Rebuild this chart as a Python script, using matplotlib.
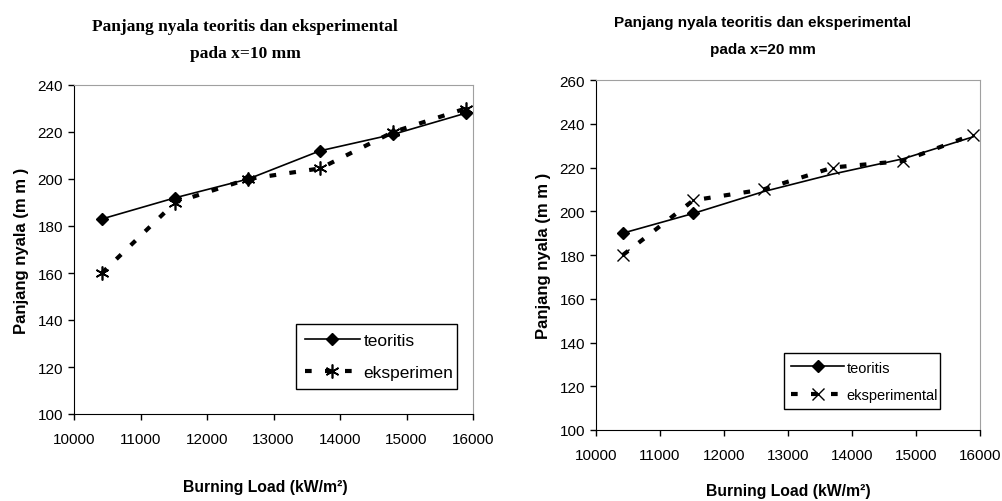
import matplotlib.pyplot as plt
import numpy as np

# burning load (kW/m2)
load = [10420, 11520, 12620, 13700, 14800, 15890]

# x = 10 mm
teo_10 = [183, 192, 200, 212, 219, 228]
eks_10 = [160, 190, 200, 204.5, 220, 230]

# x = 20 mm
teo_20 = [190, 199, 209, 217, 224, 234]
eks_20 = [180, 205, 210, 220, 223, 235]

plt.rcParams['font.family'] = ['Liberation Sans', 'DejaVu Sans']

W, H = 1002, 502
fig = plt.figure(figsize=(W / 100, H / 100), dpi=100)
dash = (0, (1.6, 3.2))


def px_axes(l, t, r, b):
    return fig.add_axes([l / W, 1 - b / H, (r - l) / W, (b - t) / H])


def style(ax, ymin, ymax):
    ax.set_xlim(10000, 16000)
    ax.set_ylim(ymin, ymax)
    ax.set_xticks(np.arange(10000, 16001, 1000))
    ax.set_yticks(np.arange(ymin, ymax + 1, 20))
    ax.tick_params(labelsize=11, length=4, width=1, direction='out', pad=4)
    ax.tick_params(axis='x', pad=9)
    for s in ['top', 'right']:
        ax.spines[s].set_color('#a0a0a0')
    for s in ['left', 'bottom']:
        ax.spines[s].set_color('black')
    ax.set_ylabel('Panjang nyala (m m )', fontsize=12, fontweight='bold', labelpad=6)


# left panel
ax1 = px_axes(74, 86, 473, 415)
ax1.plot(load, teo_10, color='black', lw=1.2, marker='D', ms=6, label='teoritis')
ax1.plot(load, eks_10, color='black', lw=3, ls=dash, marker=(6, 2, 0),
         ms=10, mew=1.2, label='eksperimen')
style(ax1, 100, 240)
ax1.legend(loc='lower left', bbox_to_anchor=(296 / W, 1 - 390 / H, 161 / W, 73 / H),
           bbox_transform=fig.transFigure, mode='expand', fancybox=False,
           edgecolor='black', framealpha=1, fontsize=12.5, handlelength=3.2,
           handletextpad=0.2, labelspacing=1.0, borderaxespad=0, borderpad=0.5)
fig.text(245 / W, 1 - 27 / H, 'Panjang nyala teoritis dan eksperimental',
         ha='center', va='center', fontsize=12.5, fontweight='bold', family='Liberation Serif')
fig.text(245 / W, 1 - 54 / H, 'pada x=10 mm',
         ha='center', va='center', fontsize=12.5, fontweight='bold', family='Liberation Serif')
fig.text(265 / W, 1 - 488 / H, 'Burning Load (kW/m²)', ha='center', va='center',
         fontsize=11.3, fontweight='bold')

# right panel
ax2 = px_axes(596, 81, 980, 431)
ax2.plot(load, teo_20, color='black', lw=1.2, marker='D', ms=6, markevery=[0, 1],
         label='teoritis')
ax2.plot(load, eks_20, color='black', lw=3, ls=dash, marker='x',
         ms=9, mew=1.0, label='eksperimental')
style(ax2, 100, 260)
ax2.legend(loc='lower left', bbox_to_anchor=(784 / W, 1 - 410 / H, 156 / W, 65 / H),
           bbox_transform=fig.transFigure, mode='expand', fancybox=False,
           edgecolor='black', framealpha=1, fontsize=10.5, handlelength=3.6,
           handletextpad=0.2, labelspacing=0.9, borderaxespad=0, borderpad=0.5)
fig.text(763 / W, 1 - 23 / H, 'Panjang nyala teoritis dan eksperimental',
         ha='center', va='center', fontsize=11, fontweight='bold')
fig.text(763 / W, 1 - 50 / H, 'pada x=20 mm',
         ha='center', va='center', fontsize=11, fontweight='bold')
fig.text(788 / W, 1 - 492 / H, 'Burning Load (kW/m²)', ha='center', va='center',
         fontsize=11.3, fontweight='bold')

fig.savefig('out.png', dpi=100)
